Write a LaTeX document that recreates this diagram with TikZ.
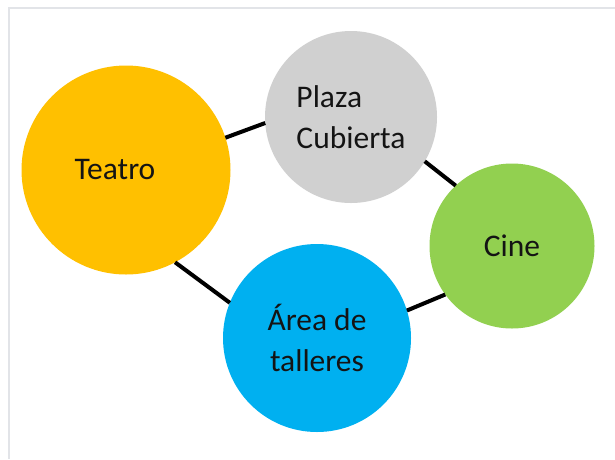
\documentclass[tikz,border=0pt]{standalone}
\usepackage{fontspec}
\setmainfont{Carlito}
\definecolor{oro}{HTML}{FFC000}
\definecolor{gris}{HTML}{D0D0D0}
\definecolor{verde}{HTML}{92D050}
\definecolor{azul}{HTML}{00B0F0}
\definecolor{marco}{HTML}{E2E4E8}
\begin{document}
\begin{tikzpicture}[x=1pt, y=-1pt,
        espacio/.style={circle, draw=none, inner sep=0pt, outer sep=0pt},
        etiqueta/.style={font=\fontsize{31.5}{41}\selectfont, text=black!92, align=center},
        enlace/.style={line width=4pt, black}]
        % Lienzo y marco
        \useasboundingbox (0,0) rectangle (615,459);
        \fill[white] (0,0) rectangle (615,459);
        \draw[marco, line width=1.8pt] (9,459) -- (9,8) -- (615,8);
        
        % Los cuatro espacios
        \node[espacio, fill=oro, minimum size=209pt] (teatro) at (126,170) {};
        \node[etiqueta] (teatrotxt) at ([xshift=-11pt]teatro.center) {Teatro};
        \node[espacio, fill=gris, minimum size=172pt, etiqueta, align=left] (plaza) at (351,117) {Plaza\\Cubierta};
        \node[espacio, fill=verde, minimum size=165pt, etiqueta] (cine) at (512,246) {Cine};
        \node[espacio, fill=azul, minimum size=188pt, etiqueta] (area) at (317,338) {Área de\\talleres};
        
        % Enlaces entre espacios
        \draw[enlace] (teatro.18) -- (plaza.184);
        \draw[enlace] (plaza.329) -- (cine.133);
        \draw[enlace] (teatro.298) -- (area.158);
        \draw[enlace] (area.17) -- (cine.216);
    \end{tikzpicture}
\end{document}
